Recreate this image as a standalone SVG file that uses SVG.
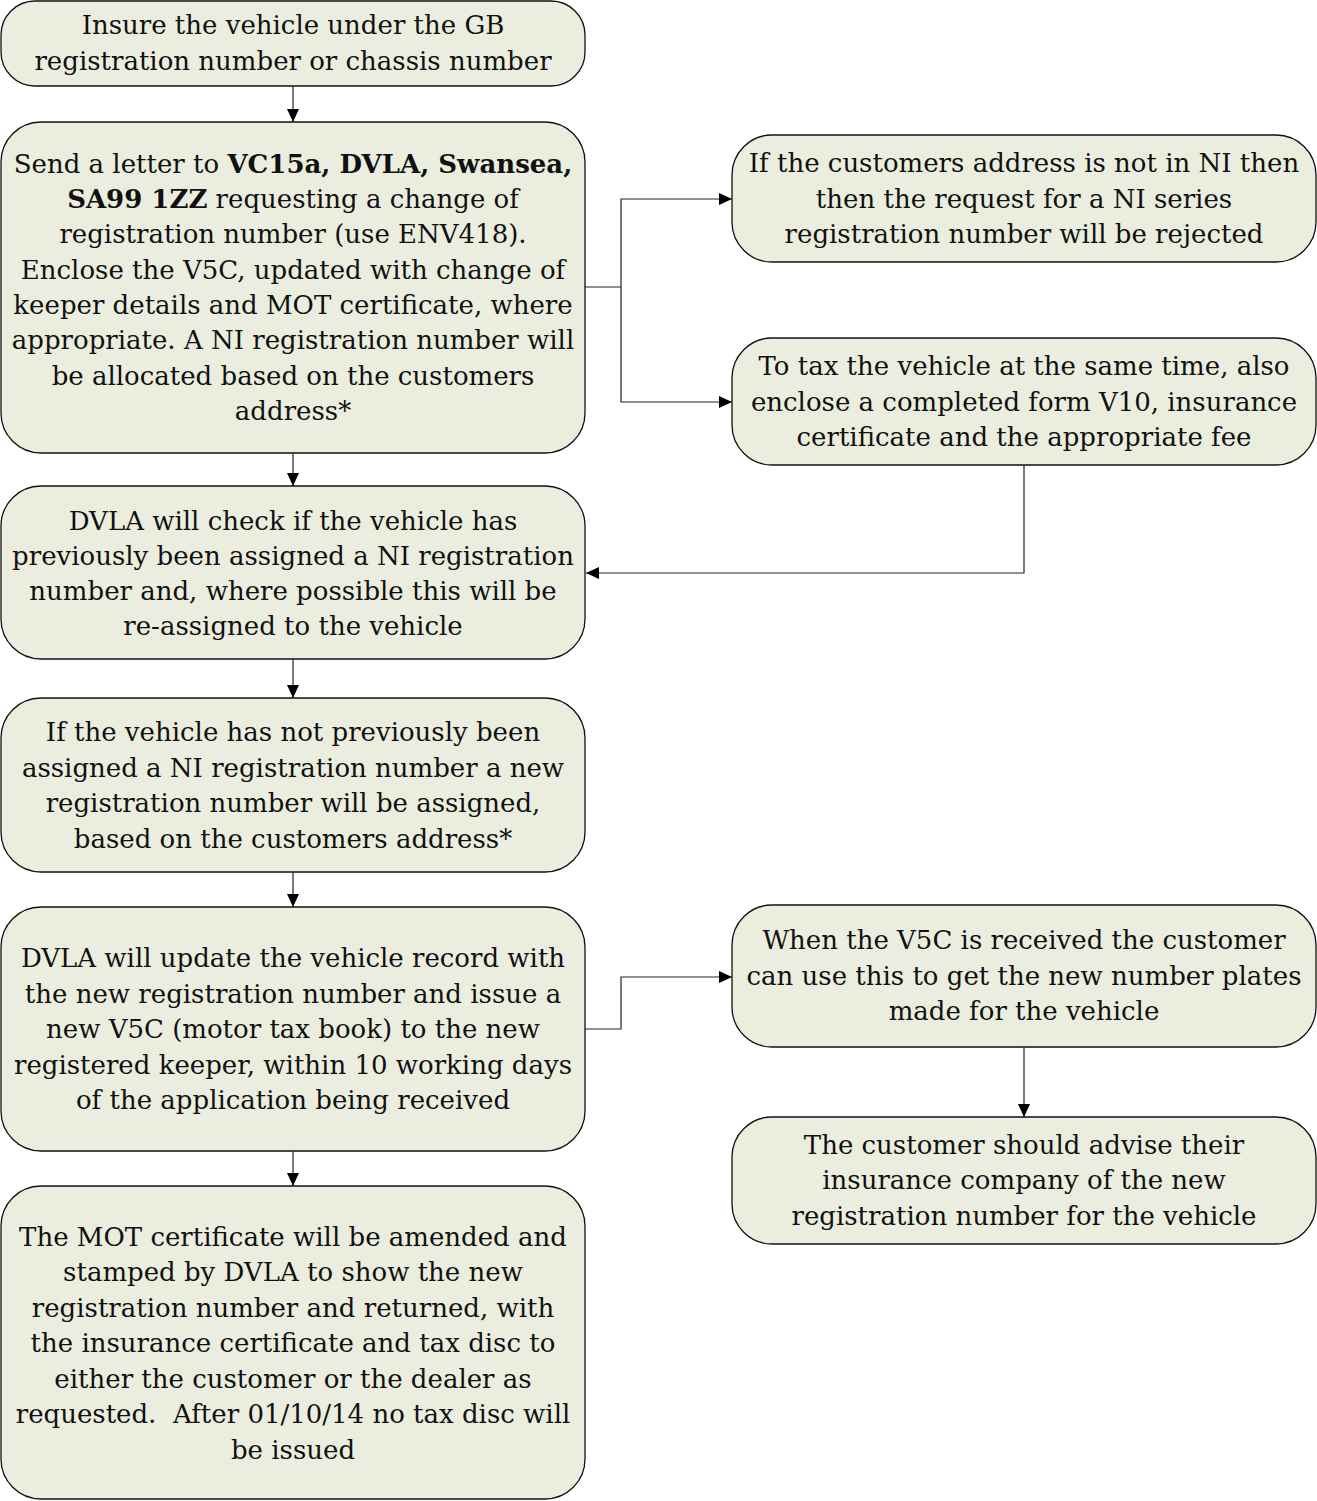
<svg xmlns="http://www.w3.org/2000/svg" width="1317" height="1501" viewBox="0 0 1317 1501">
<defs>
<marker id="ah" viewBox="0 0 13 12" refX="13" refY="6" markerWidth="13" markerHeight="12" markerUnits="userSpaceOnUse" orient="auto">
<path d="M0,0 L13,6 L0,12 Z" fill="#000"/>
</marker>
<style>
.box{fill:#ebeedf;stroke:#111;stroke-width:1.3}
.t{font-family:"DejaVu Serif","Liberation Serif",serif;font-size:26px;fill:#111;text-anchor:middle}
.b{font-weight:bold}
.c{fill:none;stroke:#222;stroke-width:1.2;marker-end:url(#ah)}
.l{fill:none;stroke:#222;stroke-width:1.2}
</style>
</defs>
<rect width="1317" height="1501" fill="#fff"/>
<g id="n1">
<rect class="box" x="1" y="1" width="584" height="85" rx="34"/>
<text class="t"><tspan x="293" y="34">Insure the vehicle under the GB</tspan><tspan x="293" y="70">registration number or chassis number</tspan></text>
</g>
<g id="n2">
<rect class="box" x="1" y="122" width="584" height="331" rx="40"/>
<text class="t"><tspan x="293" y="173">Send a letter to <tspan class="b">VC15a, DVLA, Swansea,</tspan></tspan><tspan x="293" y="208"><tspan class="b">SA99 1ZZ</tspan> requesting a change of</tspan><tspan x="293" y="243">registration number (use ENV418).</tspan><tspan x="293" y="279">Enclose the V5C, updated with change of</tspan><tspan x="293" y="314">keeper details and MOT certificate, where</tspan><tspan x="293" y="349">appropriate. A NI registration number will</tspan><tspan x="293" y="385">be allocated based on the customers</tspan><tspan x="293" y="420">address*</tspan></text>
</g>
<g id="n3">
<rect class="box" x="1" y="486" width="584" height="173" rx="40"/>
<text class="t"><tspan x="293" y="530">DVLA will check if the vehicle has</tspan><tspan x="293" y="565">previously been assigned a NI registration</tspan><tspan x="293" y="600">number and, where possible this will be</tspan><tspan x="293" y="635">re-assigned to the vehicle</tspan></text>
</g>
<g id="n4">
<rect class="box" x="1" y="698" width="584" height="174" rx="40"/>
<text class="t"><tspan x="293" y="741">If the vehicle has not previously been</tspan><tspan x="293" y="777">assigned a NI registration number a new</tspan><tspan x="293" y="812">registration number will be assigned,</tspan><tspan x="293" y="848">based on the customers address*</tspan></text>
</g>
<g id="n5">
<rect class="box" x="1" y="907" width="584" height="244" rx="40"/>
<text class="t"><tspan x="293" y="967">DVLA will update the vehicle record with</tspan><tspan x="293" y="1003">the new registration number and issue a</tspan><tspan x="293" y="1038">new V5C (motor tax book) to the new</tspan><tspan x="293" y="1074">registered keeper, within 10 working days</tspan><tspan x="293" y="1109">of the application being received</tspan></text>
</g>
<g id="n6">
<rect class="box" x="1" y="1186" width="584" height="313" rx="40"/>
<text class="t"><tspan x="293" y="1246">The MOT certificate will be amended and</tspan><tspan x="293" y="1281">stamped by DVLA to show the new</tspan><tspan x="293" y="1317">registration number and returned, with</tspan><tspan x="293" y="1352">the insurance certificate and tax disc to</tspan><tspan x="293" y="1388">either the customer or the dealer as</tspan><tspan x="293" y="1423">requested.&#160; After 01/10/14 no tax disc will</tspan><tspan x="293" y="1459">be issued</tspan></text>
</g>
<g id="r1">
<rect class="box" x="732" y="135" width="584" height="127" rx="40"/>
<text class="t"><tspan x="1024" y="172">If the customers address is not in NI then</tspan><tspan x="1024" y="208">then the request for a NI series</tspan><tspan x="1024" y="243">registration number will be rejected</tspan></text>
</g>
<g id="r2">
<rect class="box" x="732" y="338" width="584" height="127" rx="40"/>
<text class="t"><tspan x="1024" y="375">To tax the vehicle at the same time, also</tspan><tspan x="1024" y="411">enclose a completed form V10, insurance</tspan><tspan x="1024" y="446">certificate and the appropriate fee</tspan></text>
</g>
<g id="r3">
<rect class="box" x="732" y="905" width="584" height="142" rx="40"/>
<text class="t"><tspan x="1024" y="949">When the V5C is received the customer</tspan><tspan x="1024" y="985">can use this to get the new number plates</tspan><tspan x="1024" y="1020">made for the vehicle</tspan></text>
</g>
<g id="r4">
<rect class="box" x="732" y="1117" width="584" height="127" rx="40"/>
<text class="t"><tspan x="1024" y="1154">The customer should advise their</tspan><tspan x="1024" y="1189">insurance company of the new</tspan><tspan x="1024" y="1225">registration number for the vehicle</tspan></text>
</g>
<g id="connectors">
<path class="c" d="M293,86 V122"/>
<path class="c" d="M293,453 V486"/>
<path class="c" d="M293,659 V698"/>
<path class="c" d="M293,872 V907"/>
<path class="c" d="M293,1151 V1186"/>
<path class="l" d="M585,287 H621"/>
<path class="c" d="M621,287 V199 H732"/>
<path class="c" d="M621,287 V402 H732"/>
<path class="c" d="M1024,465 V573 H586"/>
<path class="c" d="M585,1029 H621 V977 H732"/>
<path class="c" d="M1024,1047 V1117"/>
</g>
</svg>
